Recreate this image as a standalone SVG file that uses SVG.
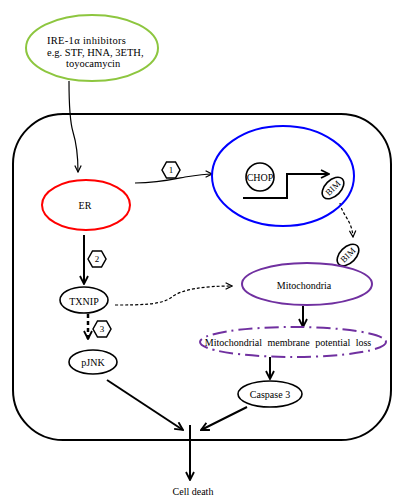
<svg xmlns="http://www.w3.org/2000/svg" width="400" height="501" viewBox="0 0 400 501">
<style>
text{font-family:"Liberation Serif","Times New Roman",serif;font-size:10px;fill:#000}
.mid{text-anchor:middle;dominant-baseline:central}
.n{fill:none;stroke:#000;stroke-width:1.6}
.thin{fill:none;stroke:#000;stroke-width:1.2}
.thick{fill:none;stroke:#000;stroke-width:2}
.hex{fill:#fff;stroke:#000;stroke-width:1.5}
</style>
<defs>
<marker id="ah" viewBox="0 0 10 10" refX="9" refY="5" markerWidth="8" markerHeight="8" markerUnits="userSpaceOnUse" orient="auto">
<path d="M1,1 L9,5 L1,9" fill="none" stroke="#000" stroke-width="1.5"/>
</marker>
<marker id="ahb" viewBox="0 0 10 10" refX="9" refY="5" markerWidth="10" markerHeight="10" markerUnits="userSpaceOnUse" orient="auto">
<path d="M1,1 L9,5 L1,9" fill="none" stroke="#000" stroke-width="1.8"/>
</marker>
</defs>
<rect width="400" height="501" fill="#fff"/>
<g id="cell"><rect x="13" y="114" width="378" height="326" rx="50" ry="50" fill="none" stroke="#000" stroke-width="2"/></g>
<g id="connectors">
<path class="thin" d="M69,81 C69,108 70,122 73,132 C77,145 78,158 78,172" marker-end="url(#ah)"/>
<path class="thin" d="M135,183 C158,183 170,180 185,177 C198,175 205,174 212,174" marker-end="url(#ah)"/>
<path class="thick" d="M84,235 L84,284" marker-end="url(#ahb)"/>
<path class="thin" stroke-dasharray="3,2" d="M340,203 C342,215 352,220 353,237" marker-end="url(#ah)"/>
<path class="thin" stroke-dasharray="3,2" d="M115,305 C140,305 162,305 172,297 C182,289 205,286 232,286" marker-end="url(#ah)"/>
<path fill="none" stroke="#000" stroke-width="2.5" stroke-dasharray="4,3" d="M88,314 L88,339" marker-end="url(#ahb)"/>
<path class="thick" d="M303,306 L303,327" marker-end="url(#ahb)"/>
<path class="thick" d="M270,357 L270,379" marker-end="url(#ahb)"/>
<path class="thick" d="M107,380 L183,430" marker-end="url(#ahb)"/>
<path class="thick" d="M247,407 L201,430" marker-end="url(#ahb)"/>
<path class="thick" d="M190,425 L190,480" marker-end="url(#ahb)"/>
<path class="thick" d="M243,198 L287,198 L287,174 L329,174" marker-end="url(#ahb)"/>
</g>
<g id="inhibitors">
<ellipse cx="92" cy="48" rx="66" ry="33" fill="#fff" stroke="#8DC63F" stroke-width="2"/>
<text x="47" y="44" style="font-size:10.5px;letter-spacing:0.3px">IRE-1α inhibitors</text>
<text x="47" y="56" style="font-size:10.5px">e.g. STF, HNA, 3ETH,</text>
<text x="66" y="67" style="font-size:10.5px">toyocamycin</text>
</g>
<g id="er">
<ellipse cx="86" cy="205" rx="44" ry="25" fill="#fff" stroke="#FF0000" stroke-width="2"/>
<text class="mid" x="85" y="205">ER</text>
</g>
<g id="nucleus">
<ellipse cx="283" cy="176" rx="71" ry="50" fill="none" stroke="#0000FF" stroke-width="2"/>
</g>
<g id="chop">
<circle cx="260" cy="177" r="14" fill="#fff" stroke="#000" stroke-width="1.6"/>
<text class="mid" x="260" y="177">CHOP</text>
</g>
<g id="bim1">
<ellipse cx="333" cy="188" rx="13" ry="8" transform="rotate(-45 333 188)" fill="#fff" stroke="#000" stroke-width="1.6"/>
<text class="mid" x="333" y="188" transform="rotate(-45 333 188)" style="font-size:9px">BIM</text>
</g>
<g id="bim2">
<ellipse cx="348" cy="255" rx="13" ry="8" transform="rotate(-45 348 255)" fill="#fff" stroke="#000" stroke-width="1.6"/>
<text class="mid" x="348" y="255" transform="rotate(-45 348 255)" style="font-size:9px">BIM</text>
</g>
<g id="mito">
<ellipse cx="307" cy="284" rx="65" ry="21" fill="#fff" stroke="#7030A0" stroke-width="2"/>
<text class="mid" x="304" y="285">Mitochondria</text>
</g>
<g id="txnip">
<ellipse cx="84" cy="300" rx="24" ry="13" class="n" fill="#fff"/>
<text class="mid" x="84" y="301">TXNIP</text>
</g>
<g id="pjnk">
<ellipse cx="93" cy="362" rx="24" ry="12" class="n"/>
<text class="mid" x="93" y="362">pJNK</text>
</g>
<g id="mmpl">
<ellipse cx="293" cy="342" rx="93" ry="15" fill="none" stroke="#7030A0" stroke-width="2" stroke-dasharray="14,5,2,5"/>
<text class="mid" x="288" y="342" style="word-spacing:3px">Mitochondrial membrane potential loss</text>
</g>
<g id="caspase">
<ellipse cx="270" cy="394" rx="32" ry="13" class="n" fill="#fff"/>
<text class="mid" x="270" y="394">Caspase 3</text>
</g>
<g id="celldeath">
<text class="mid" x="193" y="491">Cell death</text>
</g>
<g id="hex1"><polygon class="hex" points="162,170 166.5,162 175.5,162 180,170 175.5,178 166.5,178"/><text class="mid" x="171" y="170" style="font-size:9px">1</text></g>
<g id="hex2"><polygon class="hex" points="88,259 92.5,251 101.5,251 106,259 101.5,267 92.5,267"/><text class="mid" x="97" y="259" style="font-size:9px">2</text></g>
<g id="hex3"><polygon class="hex" points="93,329 97.5,321 106.5,321 111,329 106.5,337 97.5,337"/><text class="mid" x="102" y="329" style="font-size:9px">3</text></g>
</svg>
